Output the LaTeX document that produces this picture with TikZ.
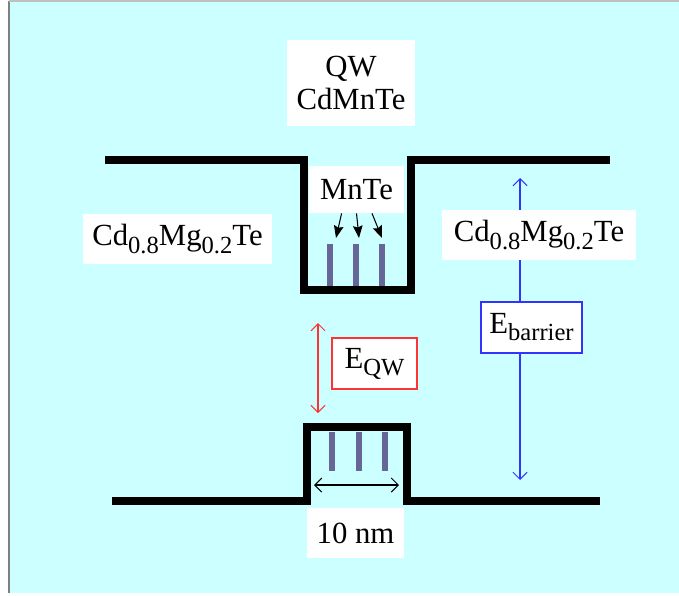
\documentclass[tikz,border=0pt]{standalone}
\usepackage{fontspec}
\setmainfont{Liberation Serif}
\usetikzlibrary{arrows.meta}
\definecolor{bgCol}{HTML}{CCFFFF}
\definecolor{bgEdge}{HTML}{7F7F7F}
\definecolor{mnCol}{HTML}{666699}
\definecolor{qwEdge}{HTML}{FF3333}
\definecolor{barrEdge}{HTML}{3333FF}
\newcommand{\lowidx}[1]{\raisebox{-4pt}{\fontsize{14}{14}\selectfont #1}}
\tikzset{
  band/.style={line width=4.6pt, line join=miter},
  mnbar/.style={draw=mnCol, line width=2.9pt},
  lbl/.style={fill=white, align=center, inner sep=0pt,
        font=\fontsize{17.5}{19}\selectfont},
  ebox/.style={lbl, draw=#1, line width=0.7pt},
  ptr/.style={-{Stealth[length=7pt, width=5.5pt, inset=1pt]}, line width=0.6pt},
  span/.style={{Straight Barb[length=4pt, width=8pt]}-{Straight Barb[length=4pt, width=8pt]}, line width=0.6pt},
}

\begin{document}
\begin{tikzpicture}[x=0.02cm, y=-0.02cm]
  \useasboundingbox (0,0) rectangle (679,595);
  \fill[bgCol] (9,1) rectangle (679,593);
  \draw[bgEdge, line width=0.8pt] (9,593) -- (9,1);
  \draw[black!25, line width=0.6pt] (9,1) -- (679,1);
  \draw[band] (105,160) -- (304,160) -- (304,290) -- (411,290) -- (411,160) -- (610,160);
  \draw[band] (112,501) -- (307,501) -- (307,427) -- (407,427) -- (407,501) -- (600,501);
  \foreach \x in {330,356,382} \draw[mnbar] (\x,244) -- (\x,286);
  \foreach \x in {332,359,385} \draw[mnbar] (\x,432) -- (\x,471);
  \coordinate (t1) at (336,238);
  \coordinate (t2) at (359,238);
  \coordinate (t3) at (382,238);
  \coordinate (qwtop) at (318,323);
  \coordinate (qwbot) at (318,413);
  \coordinate (bartop) at (520,178);
  \coordinate (barbot) at (520,480);
  \coordinate (wl) at (314,485);
  \coordinate (wr) at (399,485);
  \draw[span, barrEdge] (bartop) -- (barbot);
  \draw[span, qwEdge] (qwtop) -- (qwbot);
  \draw[span] (wl) -- (wr);
  \node[lbl, minimum width=2.56cm, minimum height=1.74cm] (qw) at (351,83) {QW\\CdMnTe};
  \node[lbl, minimum width=1.9cm, minimum height=0.94cm] (mnte) at (356.5,189.5) {MnTe};
  \node[lbl, minimum width=3.78cm, minimum height=1.0cm] (cdl) at (177.5,239) {Cd\lowidx{0.8}Mg\lowidx{0.2}Te};
  \node[lbl, minimum width=3.88cm, minimum height=1.0cm] (cdr) at (539,235) {Cd\lowidx{0.8}Mg\lowidx{0.2}Te};
  \node[ebox=qwEdge, minimum width=1.7cm, minimum height=1.02cm] (eqw) at (374.5,363.5) {E\lowidx{QW}};
  \node[ebox=barrEdge, minimum width=2.02cm, minimum height=1.02cm] (ebar) at (531.5,327.5) {E\lowidx{barrier}};
  \node[lbl, minimum width=1.94cm, minimum height=1.0cm] (nm) at (355.5,533) {10 nm};
  \draw[ptr] (mnte.238) -- (t1);
  \draw[ptr] (mnte.south) -- (t2);
  \draw[ptr] (mnte.303) -- (t3);
\end{tikzpicture}
\end{document}
